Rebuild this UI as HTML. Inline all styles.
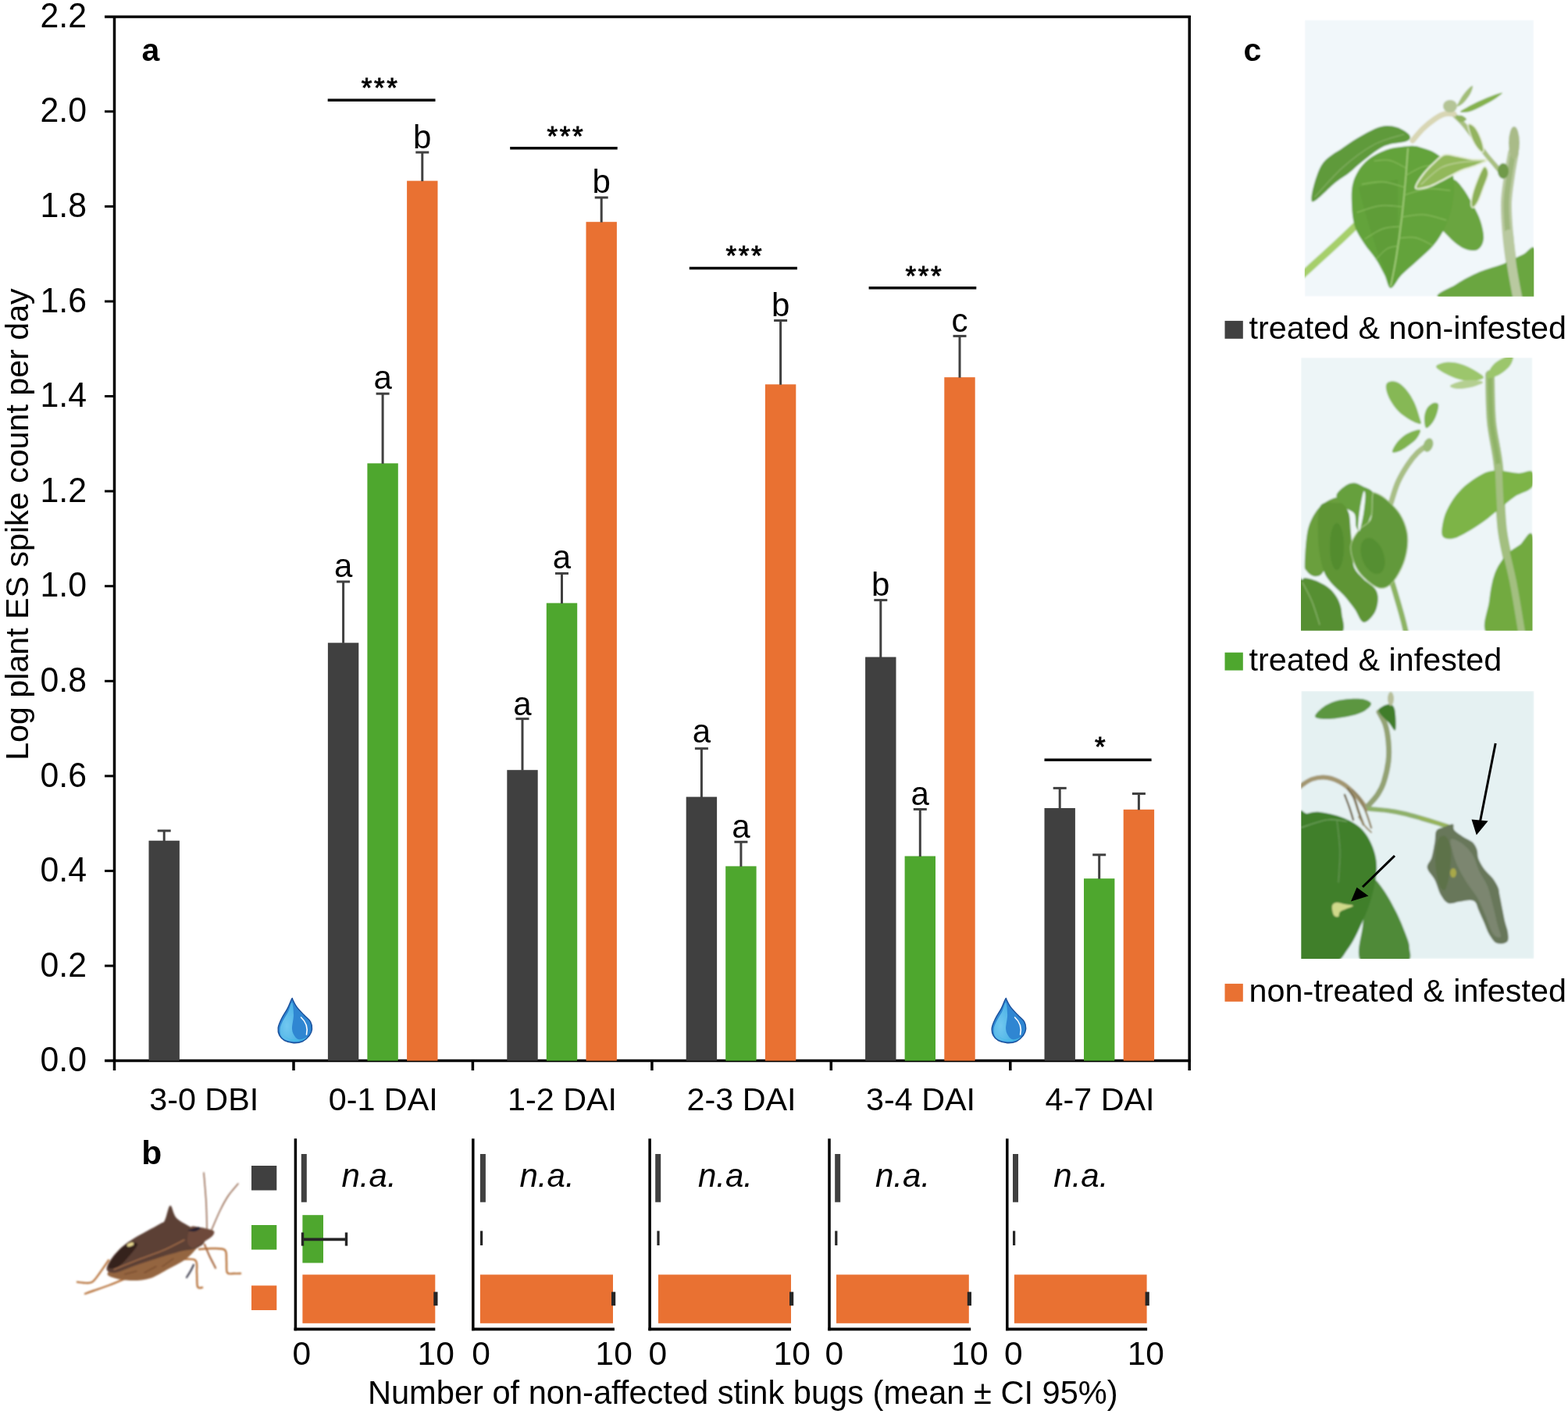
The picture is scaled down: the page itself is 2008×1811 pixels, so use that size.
<!DOCTYPE html>
<html><head><meta charset="utf-8"><title>Figure</title>
<style>html,body{margin:0;padding:0;background:#fff;} svg{display:block;} text{font-family:"Liberation Sans",Arial,sans-serif;fill:#000;}</style>
</head><body>
<svg width="2008" height="1811" viewBox="0 0 2008 1811">
<rect width="2008" height="1811" fill="#fff"/>
<defs>
<clipPath id="p1"><rect x="1670.8" y="25.4" width="293.5" height="354.4"/></clipPath>
<clipPath id="p2"><rect x="1666" y="458" width="296.5" height="349.8"/></clipPath>
<clipPath id="p3"><rect x="1666.3" y="884.9" width="298.2" height="343"/></clipPath>
<filter id="soft" x="-5%" y="-5%" width="110%" height="110%"><feGaussianBlur stdDeviation="0.8"/></filter>
<radialGradient id="dropL" cx="0.35" cy="0.6" r="0.6"><stop offset="0" stop-color="#72c8f0"/><stop offset="1" stop-color="#4db3e6"/></radialGradient>
<linearGradient id="dropR" x1="0" y1="0" x2="1" y2="1"><stop offset="0" stop-color="#2a7fd4"/><stop offset="1" stop-color="#3a92d6"/></linearGradient>
</defs>
<g clip-path="url(#p1)" filter="url(#soft)">
<rect x="1670.8" y="25.4" width="293.5" height="354.4" fill="#f1f7fa"/>
<path d="M1666.0,354.0 C1670.0,350.3 1682.0,339.3 1690.0,332.0 C1698.0,324.7 1706.3,317.2 1714.0,310.0 C1721.7,302.8 1732.3,292.5 1736.0,289.0" fill="none" stroke="#a6cf6a" stroke-width="9" stroke-linecap="round" />
<path d="M1938.0,196.0 C1937.2,200.8 1934.5,214.3 1933.0,225.0 C1931.5,235.7 1929.3,247.5 1929.0,260.0 C1928.7,272.5 1929.8,286.7 1931.0,300.0 C1932.2,313.3 1933.8,325.8 1936.0,340.0 C1938.2,354.2 1942.7,377.5 1944.0,385.0" fill="none" stroke="#b9c9a0" stroke-width="14" stroke-linecap="round" />
<path d="M1938.0,196.0 C1937.2,200.8 1934.5,214.3 1933.0,225.0 C1931.5,235.7 1929.3,247.5 1929.0,260.0 C1928.7,272.5 1929.8,286.7 1931.0,300.0 C1932.2,313.3 1933.8,325.8 1936.0,340.0 C1938.2,354.2 1942.7,377.5 1944.0,385.0" fill="none" stroke="#9fb77e" stroke-width="7" stroke-linecap="round" />
<ellipse cx="1939" cy="183" rx="7" ry="21" fill="#a9bb88"/>
<path d="M1862.0,147.0 C1864.2,149.2 1870.3,154.5 1875.0,160.0 C1879.7,165.5 1885.2,173.5 1890.0,180.0 C1894.8,186.5 1899.8,193.7 1904.0,199.0 C1908.2,204.3 1911.5,207.8 1915.0,212.0 C1918.5,216.2 1923.3,222.0 1925.0,224.0" fill="none" stroke="#a9c080" stroke-width="6" stroke-linecap="round" />
<ellipse cx="1925" cy="219" rx="7" ry="10" fill="#6f9a48"/>
<path d="M1809.0,180.0 C1811.2,177.5 1817.2,169.7 1822.0,165.0 C1826.8,160.3 1833.3,155.2 1838.0,152.0 C1842.7,148.8 1846.0,147.0 1850.0,146.0 C1854.0,145.0 1860.0,146.0 1862.0,146.0" fill="none" stroke="#d8d6b4" stroke-width="7" stroke-linecap="round" />
<path d="M1870.0,143.0 C1870.5,141.5 1880.0,136.7 1885.0,134.0 C1890.0,131.3 1895.0,129.2 1900.0,127.0 C1905.0,124.8 1911.0,122.3 1915.0,121.0 C1919.0,119.7 1924.2,118.0 1924.0,119.0 C1923.8,120.0 1918.3,124.2 1914.0,127.0 C1909.7,129.8 1903.3,133.3 1898.0,136.0 C1892.7,138.7 1886.7,141.8 1882.0,143.0 C1877.3,144.2 1869.5,144.5 1870.0,143.0Z" fill="#85b24e" />
<path d="M1866.0,136.0 C1865.7,134.7 1869.7,127.7 1872.0,124.0 C1874.3,120.3 1877.7,116.3 1880.0,114.0 C1882.3,111.7 1885.5,109.0 1886.0,110.0 C1886.5,111.0 1885.0,116.3 1883.0,120.0 C1881.0,123.7 1876.8,129.3 1874.0,132.0 C1871.2,134.7 1866.3,137.3 1866.0,136.0Z" fill="#a2be78" />
<ellipse cx="1857" cy="136" rx="9" ry="8" fill="#b4c496"/>
<path d="M1864.0,149.0 C1864.3,147.7 1869.7,147.3 1872.0,148.0 C1874.3,148.7 1878.3,151.7 1878.0,153.0 C1877.7,154.3 1872.3,156.7 1870.0,156.0 C1867.7,155.3 1863.7,150.3 1864.0,149.0Z" fill="#8fb25e" />
<path d="M1880.0,160.0 C1880.3,157.0 1885.3,159.3 1888.0,162.0 C1890.7,164.7 1894.0,171.0 1896.0,176.0 C1898.0,181.0 1900.0,189.0 1900.0,192.0 C1900.0,195.0 1898.3,196.0 1896.0,194.0 C1893.7,192.0 1888.7,185.7 1886.0,180.0 C1883.3,174.3 1879.7,163.0 1880.0,160.0Z" fill="#93b45e" stroke="#e8eedb" stroke-width="1.5"/>
<path d="M1845.0,232.0 C1848.7,223.7 1857.2,228.3 1862.0,230.0 C1866.8,231.7 1870.0,236.7 1874.0,242.0 C1878.0,247.3 1882.3,255.2 1886.0,262.0 C1889.7,268.8 1893.7,275.7 1896.0,283.0 C1898.3,290.3 1900.7,299.8 1900.0,306.0 C1899.3,312.2 1896.3,318.0 1892.0,320.0 C1887.7,322.0 1880.3,321.0 1874.0,318.0 C1867.7,315.0 1859.7,308.3 1854.0,302.0 C1848.3,295.7 1841.5,291.7 1840.0,280.0 C1838.5,268.3 1841.3,240.3 1845.0,232.0Z" fill="#6aa540" />
<path d="M1846.0,382.0 C1828.8,378.7 1856.8,369.7 1865.0,364.0 C1873.2,358.3 1885.0,352.3 1895.0,348.0 C1905.0,343.7 1915.8,341.7 1925.0,338.0 C1934.2,334.3 1943.2,329.0 1950.0,326.0 C1956.8,323.0 1963.0,310.3 1966.0,320.0 C1969.0,329.7 1988.0,373.7 1968.0,384.0 C1948.0,394.3 1863.2,385.3 1846.0,382.0Z" fill="#6ba63f" />
<path d="M1932.0,300.0 C1932.7,306.7 1934.0,325.8 1936.0,340.0 C1938.0,354.2 1942.7,377.5 1944.0,385.0" fill="none" stroke="#b9c9a0" stroke-width="12" stroke-linecap="round" />
<path d="M1680.0,258.0 C1677.0,254.3 1685.3,223.5 1692.0,212.0 C1698.7,200.5 1711.2,195.5 1720.0,189.0 C1728.8,182.5 1736.8,177.5 1745.0,173.0 C1753.2,168.5 1761.7,163.7 1769.0,162.0 C1776.3,160.3 1783.0,161.2 1789.0,163.0 C1795.0,164.8 1803.0,170.0 1805.0,173.0 C1807.0,176.0 1806.3,178.7 1801.0,181.0 C1795.7,183.3 1782.0,183.0 1773.0,187.0 C1764.0,191.0 1754.7,199.2 1747.0,205.0 C1739.3,210.8 1733.2,217.2 1727.0,222.0 C1720.8,226.8 1717.8,228.0 1710.0,234.0 C1702.2,240.0 1683.0,261.7 1680.0,258.0Z" fill="#5f9a3a" />
<path d="M1684.0,252.0 C1690.0,245.7 1707.3,225.2 1720.0,214.0 C1732.7,202.8 1747.0,192.0 1760.0,185.0 C1773.0,178.0 1791.7,174.2 1798.0,172.0" fill="none" stroke="#86b266" stroke-width="1.2" stroke-linecap="round" />
<path d="M1805.0,187.0 C1797.5,187.5 1784.5,188.5 1775.0,192.0 C1765.5,195.5 1755.0,201.2 1748.0,208.0 C1741.0,214.8 1735.8,224.0 1733.0,233.0 C1730.2,242.0 1730.7,252.5 1731.0,262.0 C1731.3,271.5 1732.3,281.7 1735.0,290.0 C1737.7,298.3 1742.5,305.0 1747.0,312.0 C1751.5,319.0 1757.7,325.3 1762.0,332.0 C1766.3,338.7 1769.8,345.8 1773.0,352.0 C1776.2,358.2 1777.3,369.0 1781.0,369.0 C1784.7,369.0 1789.3,357.8 1795.0,352.0 C1800.7,346.2 1808.2,340.3 1815.0,334.0 C1821.8,327.7 1830.0,321.3 1836.0,314.0 C1842.0,306.7 1847.0,298.7 1851.0,290.0 C1855.0,281.3 1858.2,271.7 1860.0,262.0 C1861.8,252.3 1862.8,240.5 1862.0,232.0 C1861.2,223.5 1859.0,217.0 1855.0,211.0 C1851.0,205.0 1843.8,199.7 1838.0,196.0 C1832.2,192.3 1825.5,190.5 1820.0,189.0 C1814.5,187.5 1812.5,186.5 1805.0,187.0Z" fill="#63a33b" />
<path d="M1740,240 C1755,300 1770,340 1781,366 L1790,300 L1790,230 Z" fill="#5a9836" opacity="0.5"/>
<path d="M1803.0,190.0 C1802.5,196.7 1801.3,215.0 1800.0,230.0 C1798.7,245.0 1797.0,263.3 1795.0,280.0 C1793.0,296.7 1790.3,315.7 1788.0,330.0 C1785.7,344.3 1782.2,360.0 1781.0,366.0" fill="none" stroke="#acd282" stroke-width="1.6" stroke-linecap="round" />
<path d="M1800.0,215.0 C1796.7,213.4 1786.7,207.0 1780.0,205.5 C1773.3,204.0 1763.3,205.9 1760.0,206.0" fill="none" stroke="#92c466" stroke-width="1.0" stroke-linecap="round" />
<path d="M1799.0,240.0 C1794.4,238.8 1780.7,233.7 1771.5,233.0 C1762.3,232.3 1748.6,235.5 1744.0,236.0" fill="none" stroke="#92c466" stroke-width="1.0" stroke-linecap="round" />
<path d="M1797.0,265.0 C1792.1,264.8 1777.3,262.3 1767.5,263.5 C1757.7,264.7 1742.9,270.6 1738.0,272.0" fill="none" stroke="#92c466" stroke-width="1.0" stroke-linecap="round" />
<path d="M1794.0,290.0 C1790.2,290.5 1778.7,290.3 1771.0,293.0 C1763.3,295.7 1751.8,303.8 1748.0,306.0" fill="none" stroke="#92c466" stroke-width="1.0" stroke-linecap="round" />
<path d="M1791.0,315.0 C1788.6,315.6 1781.3,315.7 1776.5,318.5 C1771.7,321.3 1764.4,329.8 1762.0,332.0" fill="none" stroke="#92c466" stroke-width="1.0" stroke-linecap="round" />
<path d="M1800.0,225.0 C1803.8,223.1 1815.0,215.7 1822.5,213.5 C1830.0,211.3 1841.2,212.2 1845.0,212.0" fill="none" stroke="#92c466" stroke-width="1.0" stroke-linecap="round" />
<path d="M1798.0,250.0 C1802.9,248.7 1817.7,243.0 1827.5,242.0 C1837.3,241.0 1852.1,243.7 1857.0,244.0" fill="none" stroke="#92c466" stroke-width="1.0" stroke-linecap="round" />
<path d="M1795.0,278.0 C1799.8,277.5 1814.0,274.3 1823.5,275.0 C1833.0,275.7 1847.2,280.8 1852.0,282.0" fill="none" stroke="#92c466" stroke-width="1.0" stroke-linecap="round" />
<path d="M1792.0,305.0 C1795.5,304.9 1806.0,303.0 1813.0,304.5 C1820.0,306.0 1830.5,312.4 1834.0,314.0" fill="none" stroke="#92c466" stroke-width="1.0" stroke-linecap="round" />
<path d="M1813.0,241.0 C1811.7,238.5 1817.8,229.7 1822.0,224.0 C1826.2,218.3 1833.3,211.3 1838.0,207.0 C1842.7,202.7 1845.3,199.2 1850.0,198.0 C1854.7,196.8 1860.2,199.0 1866.0,200.0 C1871.8,201.0 1878.7,203.2 1885.0,204.0 C1891.3,204.8 1903.2,203.7 1904.0,205.0 C1904.8,206.3 1895.3,209.8 1890.0,212.0 C1884.7,214.2 1877.0,216.0 1872.0,218.0 C1867.0,220.0 1864.5,221.7 1860.0,224.0 C1855.5,226.3 1850.0,229.5 1845.0,232.0 C1840.0,234.5 1835.3,237.5 1830.0,239.0 C1824.7,240.5 1814.3,243.5 1813.0,241.0Z" fill="#92b85a" stroke="#e6eed6" stroke-width="2.2"/>
<path d="M1820.0,236.0 C1824.2,232.5 1836.7,219.7 1845.0,215.0 C1853.3,210.3 1860.8,209.5 1870.0,208.0 C1879.2,206.5 1895.0,206.3 1900.0,206.0" fill="none" stroke="#bcd196" stroke-width="1.4" stroke-linecap="round" />
<path d="M1900.0,214.0 C1902.8,211.3 1906.0,217.7 1906.0,222.0 C1906.0,226.3 1902.2,234.0 1900.0,240.0 C1897.8,246.0 1895.3,253.7 1893.0,258.0 C1890.7,262.3 1887.5,266.0 1886.0,266.0 C1884.5,266.0 1883.5,262.7 1884.0,258.0 C1884.5,253.3 1886.3,245.3 1889.0,238.0 C1891.7,230.7 1897.2,216.7 1900.0,214.0Z" fill="#8cb056" stroke="#e6eed6" stroke-width="1.6"/>
</g>
<g clip-path="url(#p2)" filter="url(#soft)">
<rect x="1666" y="458" width="296.5" height="349.8" fill="#edf5f7"/>
<path d="M1781.0,645.0 C1782.5,640.5 1786.3,626.3 1790.0,618.0 C1793.7,609.7 1798.8,601.3 1803.0,595.0 C1807.2,588.7 1810.8,584.2 1815.0,580.0 C1819.2,575.8 1825.8,571.7 1828.0,570.0" fill="none" stroke="#a9bf86" stroke-width="7" stroke-linecap="round" />
<path d="M1781.0,740.0 C1782.5,745.0 1787.3,760.8 1790.0,770.0 C1792.7,779.2 1795.2,788.0 1797.0,795.0 C1798.8,802.0 1800.3,809.2 1801.0,812.0" fill="none" stroke="#8db463" stroke-width="7" stroke-linecap="round" />
<path d="M1908.0,480.0 C1908.3,490.0 1908.2,520.3 1910.0,540.0 C1911.8,559.7 1916.7,574.7 1919.0,598.0 C1921.3,621.3 1920.8,655.2 1924.0,680.0 C1927.2,704.8 1933.8,725.0 1938.0,747.0 C1942.2,769.0 1947.2,801.2 1949.0,812.0" fill="none" stroke="#a3bf80" stroke-width="12" stroke-linecap="round" />
<path d="M1908.0,480.0 C1908.3,490.0 1908.2,520.3 1910.0,540.0 C1911.8,559.7 1916.7,574.7 1919.0,598.0 C1921.3,621.3 1920.8,655.2 1924.0,680.0 C1927.2,704.8 1933.8,725.0 1938.0,747.0 C1942.2,769.0 1947.2,801.2 1949.0,812.0" fill="none" stroke="#8fb368" stroke-width="6" stroke-linecap="round" />
<path d="M1777.0,490.0 C1779.2,488.5 1784.2,487.7 1788.0,489.0 C1791.8,490.3 1796.2,493.7 1800.0,498.0 C1803.8,502.3 1808.0,508.8 1811.0,515.0 C1814.0,521.2 1816.7,530.3 1818.0,535.0 C1819.3,539.7 1821.0,542.5 1819.0,543.0 C1817.0,543.5 1810.7,540.7 1806.0,538.0 C1801.3,535.3 1795.3,531.3 1791.0,527.0 C1786.7,522.7 1782.7,516.8 1780.0,512.0 C1777.3,507.2 1775.5,501.7 1775.0,498.0 C1774.5,494.3 1774.8,491.5 1777.0,490.0Z" fill="#86b855" />
<path d="M1826.0,548.0 C1824.3,546.7 1823.7,538.3 1824.0,534.0 C1824.3,529.7 1826.0,525.0 1828.0,522.0 C1830.0,519.0 1833.7,516.7 1836.0,516.0 C1838.3,515.3 1841.3,515.7 1842.0,518.0 C1842.7,520.3 1841.3,526.0 1840.0,530.0 C1838.7,534.0 1836.3,539.0 1834.0,542.0 C1831.7,545.0 1827.7,549.3 1826.0,548.0Z" fill="#80b450" />
<path d="M1783.0,579.0 C1782.3,577.3 1785.5,571.5 1788.0,568.0 C1790.5,564.5 1794.3,560.7 1798.0,558.0 C1801.7,555.3 1806.5,553.2 1810.0,552.0 C1813.5,550.8 1818.3,549.3 1819.0,551.0 C1819.7,552.7 1816.8,558.5 1814.0,562.0 C1811.2,565.5 1805.7,569.3 1802.0,572.0 C1798.3,574.7 1795.2,576.8 1792.0,578.0 C1788.8,579.2 1783.7,580.7 1783.0,579.0Z" fill="#80b450" />
<ellipse cx="1829" cy="570" rx="6" ry="9" fill="#9cbc78" transform="rotate(20 1829 570)"/>
<path d="M1839.0,470.0 C1838.0,467.0 1846.8,464.7 1852.0,464.0 C1857.2,463.3 1864.0,464.3 1870.0,466.0 C1876.0,467.7 1883.0,471.0 1888.0,474.0 C1893.0,477.0 1901.3,481.7 1900.0,484.0 C1898.7,486.3 1887.0,488.3 1880.0,488.0 C1873.0,487.7 1864.8,485.0 1858.0,482.0 C1851.2,479.0 1840.0,473.0 1839.0,470.0Z" fill="#9cc66c" />
<path d="M1905.0,484.0 C1903.3,482.3 1907.2,474.0 1910.0,470.0 C1912.8,466.0 1917.5,462.3 1922.0,460.0 C1926.5,457.7 1935.0,454.7 1937.0,456.0 C1939.0,457.3 1936.8,464.0 1934.0,468.0 C1931.2,472.0 1924.8,477.3 1920.0,480.0 C1915.2,482.7 1906.7,485.7 1905.0,484.0Z" fill="#9cc66c" />
<path d="M1857.0,494.0 C1858.0,492.3 1866.5,489.2 1872.0,488.0 C1877.5,486.8 1885.5,486.7 1890.0,487.0 C1894.5,487.3 1900.0,488.5 1899.0,490.0 C1898.0,491.5 1889.5,494.7 1884.0,496.0 C1878.5,497.3 1870.5,498.3 1866.0,498.0 C1861.5,497.7 1856.0,495.7 1857.0,494.0Z" fill="#b4cf90" />
<path d="M1847.0,686.0 C1845.2,681.7 1847.2,671.0 1849.0,664.0 C1850.8,657.0 1854.2,650.3 1858.0,644.0 C1861.8,637.7 1866.7,631.3 1872.0,626.0 C1877.3,620.7 1884.3,615.7 1890.0,612.0 C1895.7,608.3 1900.7,605.5 1906.0,604.0 C1911.3,602.5 1915.5,602.7 1922.0,603.0 C1928.5,603.3 1938.3,605.8 1945.0,606.0 C1951.7,606.2 1959.2,601.0 1962.0,604.0 C1964.8,607.0 1965.7,618.7 1962.0,624.0 C1958.3,629.3 1947.0,631.3 1940.0,636.0 C1933.0,640.7 1926.7,646.7 1920.0,652.0 C1913.3,657.3 1907.0,663.0 1900.0,668.0 C1893.0,673.0 1884.7,678.3 1878.0,682.0 C1871.3,685.7 1865.2,689.3 1860.0,690.0 C1854.8,690.7 1848.8,690.3 1847.0,686.0Z" fill="#7db446" />
<path d="M1905.0,812.0 C1895.2,805.0 1905.5,782.8 1907.0,770.0 C1908.5,757.2 1910.5,744.7 1914.0,735.0 C1917.5,725.3 1922.7,718.2 1928.0,712.0 C1933.3,705.8 1940.0,701.7 1946.0,698.0 C1952.0,694.3 1960.7,671.0 1964.0,690.0 C1967.3,709.0 1975.8,791.7 1966.0,812.0 C1956.2,832.3 1914.8,819.0 1905.0,812.0Z" fill="#72aa40" />
<path d="M1919.0,598.0 C1919.8,611.7 1920.8,655.2 1924.0,680.0 C1927.2,704.8 1933.8,725.0 1938.0,747.0 C1942.2,769.0 1947.2,801.2 1949.0,812.0" fill="none" stroke="#a3bf80" stroke-width="9" stroke-linecap="round" />
<path d="M1670.8,721.7 C1671.0,713.4 1672.2,691.7 1674.3,681.1 C1676.4,670.5 1679.8,664.2 1683.5,658.0 C1687.2,651.8 1691.3,647.5 1696.3,644.0 C1701.3,640.5 1710.0,636.7 1713.7,637.1 C1717.4,637.5 1718.3,641.0 1718.3,646.4 C1718.3,651.8 1716.2,659.9 1713.7,669.5 C1711.2,679.1 1706.6,693.7 1703.3,704.3 C1700.0,714.9 1697.5,727.7 1694.0,733.3 C1690.5,738.9 1685.9,738.3 1682.4,737.9 C1678.9,737.5 1675.0,733.7 1673.1,731.0 C1671.2,728.3 1670.6,730.0 1670.8,721.7Z" fill="#6a9f3c" />
<path d="M1711.4,634.8 C1711.8,630.3 1719.2,624.7 1723.0,622.0 C1726.8,619.3 1730.7,618.3 1734.5,618.5 C1738.3,618.7 1742.2,621.3 1746.1,623.2 C1750.0,625.1 1755.4,626.2 1757.7,630.1 C1760.0,634.0 1761.9,637.9 1760.0,646.4 C1758.1,654.9 1749.9,676.3 1746.1,681.1 C1742.2,685.9 1738.8,679.1 1736.9,675.3 C1735.0,671.4 1737.2,662.4 1734.5,658.0 C1731.8,653.6 1724.4,652.6 1720.6,648.7 C1716.8,644.8 1711.0,639.2 1711.4,634.8Z" fill="#66a03c" />
<path d="M1690.5,648.7 C1694.4,640.6 1706.4,644.4 1711.4,644.0 C1716.4,643.6 1717.9,644.1 1720.6,646.4 C1723.3,648.7 1726.0,652.2 1727.6,658.0 C1729.1,663.8 1729.1,672.4 1729.9,681.1 C1730.7,689.8 1731.4,702.4 1732.2,710.1 C1733.0,717.8 1732.2,722.3 1734.5,727.5 C1736.8,732.7 1741.6,736.9 1746.1,741.4 C1750.5,745.9 1758.1,749.8 1761.2,754.2 C1764.3,758.7 1764.9,762.9 1764.7,768.1 C1764.5,773.3 1763.1,780.7 1760.0,785.5 C1756.9,790.3 1750.3,798.1 1746.1,797.1 C1741.8,796.1 1738.8,785.5 1734.5,779.7 C1730.2,773.9 1725.8,768.1 1720.6,762.3 C1715.4,756.5 1707.7,750.7 1703.3,744.9 C1698.9,739.1 1696.5,736.2 1694.0,727.5 C1691.5,718.8 1688.8,705.8 1688.2,692.7 C1687.6,679.6 1686.6,656.8 1690.5,648.7Z" fill="#5e9536" />
<ellipse cx="1712" cy="700" rx="9" ry="30" fill="#4f8a2c" opacity="0.8"/>
<path d="M1729.9,698.5 C1730.9,691.4 1736.0,684.4 1740.3,678.8 C1744.5,673.2 1752.5,672.2 1755.4,664.9 C1758.3,657.6 1756.7,640.4 1757.7,634.8 C1758.7,629.2 1758.3,630.5 1761.2,631.3 C1764.1,632.1 1769.9,634.9 1775.1,639.4 C1780.3,643.9 1788.0,651.0 1792.5,658.0 C1797.0,665.0 1800.2,673.4 1801.8,681.1 C1803.3,688.8 1803.0,696.6 1801.8,704.3 C1800.6,712.0 1798.3,720.1 1794.8,727.5 C1791.3,734.9 1785.7,744.1 1780.9,748.4 C1776.1,752.6 1771.6,754.5 1765.8,753.0 C1760.0,751.5 1751.3,744.3 1746.1,739.1 C1740.9,733.9 1737.2,728.5 1734.5,721.7 C1731.8,714.9 1728.9,705.6 1729.9,698.5Z" fill="#62993a" stroke="#a9c98a" stroke-width="1.2"/>
<ellipse cx="1758" cy="712" rx="14" ry="24" fill="#4e8a2c" opacity="0.7" transform="rotate(-20 1758 712)"/>
<path d="M1739.2,675.3 C1739.2,670.9 1740.3,659.7 1741.5,652.2 C1742.7,644.7 1744.9,633.0 1746.1,630.1 C1747.3,627.2 1748.5,630.1 1748.5,634.8 C1748.5,639.4 1747.3,650.7 1746.1,658.0 C1744.9,665.3 1742.7,675.9 1741.5,678.8 C1740.3,681.7 1739.2,679.7 1739.2,675.3Z" fill="#edf5f7" />
<path d="M1667.3,742.6 C1669.0,742.3 1668.5,739.9 1672.0,740.3 C1675.5,740.7 1683.0,742.6 1688.2,744.9 C1693.4,747.2 1699.0,750.3 1703.3,754.2 C1707.5,758.1 1711.2,762.9 1713.7,768.1 C1716.2,773.3 1717.9,778.2 1718.3,785.5 C1718.7,792.8 1725.4,807.6 1716.0,812.0 C1706.6,816.4 1671.0,823.7 1662.0,812.0 C1653.0,800.3 1661.1,753.6 1662.0,742.0 C1662.9,730.4 1665.6,742.9 1667.3,742.6Z" fill="#578f33" />
<path d="M1668.0,746.0 C1670.0,750.0 1676.3,761.0 1680.0,770.0 C1683.7,779.0 1688.3,795.0 1690.0,800.0" fill="none" stroke="#8fb870" stroke-width="1.2" stroke-linecap="round" />
</g>
<g clip-path="url(#p3)" filter="url(#soft)">
<rect x="1666.3" y="884.9" width="298.2" height="343" fill="#e5f1f2"/>
<path d="M1664.0,1008.0 C1666.7,1006.3 1674.0,1000.0 1680.0,998.0 C1686.0,996.0 1693.3,995.0 1700.0,996.0 C1706.7,997.0 1713.7,1000.0 1720.0,1004.0 C1726.3,1008.0 1733.0,1014.7 1738.0,1020.0 C1743.0,1025.3 1748.0,1033.3 1750.0,1036.0" fill="none" stroke="#a39670" stroke-width="6" stroke-linecap="round" />
<path d="M1752.0,1032.0 C1754.0,1029.7 1760.7,1023.0 1764.0,1018.0 C1767.3,1013.0 1769.7,1009.2 1772.0,1002.0 C1774.3,994.8 1777.0,983.7 1778.0,975.0 C1779.0,966.3 1778.7,957.8 1778.0,950.0 C1777.3,942.2 1776.0,934.3 1774.0,928.0 C1772.0,921.7 1767.3,914.7 1766.0,912.0" fill="none" stroke="#93a273" stroke-width="7" stroke-linecap="round" />
<path d="M1754.0,1036.0 C1757.7,1036.3 1768.7,1037.0 1776.0,1038.0 C1783.3,1039.0 1790.7,1040.3 1798.0,1042.0 C1805.3,1043.7 1813.0,1046.0 1820.0,1048.0 C1827.0,1050.0 1833.7,1052.0 1840.0,1054.0 C1846.3,1056.0 1855.0,1059.0 1858.0,1060.0" fill="none" stroke="#8fb16a" stroke-width="6" stroke-linecap="round" />
<path d="M1726.0,1010.0 C1727.3,1012.0 1731.7,1017.0 1734.0,1022.0 C1736.3,1027.0 1738.0,1034.3 1740.0,1040.0 C1742.0,1045.7 1745.0,1053.3 1746.0,1056.0" fill="none" stroke="#7d7050" stroke-width="3" stroke-linecap="round" />
<path d="M1732.0,1012.0 C1733.7,1014.0 1739.0,1019.0 1742.0,1024.0 C1745.0,1029.0 1747.7,1036.0 1750.0,1042.0 C1752.3,1048.0 1755.0,1057.0 1756.0,1060.0" fill="none" stroke="#8f8260" stroke-width="2.5" stroke-linecap="round" />
<path d="M1722.0,1018.0 C1723.0,1020.7 1726.2,1028.7 1728.0,1034.0 C1729.8,1039.3 1732.2,1047.3 1733.0,1050.0" fill="none" stroke="#6f6448" stroke-width="2.5" stroke-linecap="round" />
<path d="M1740.0,1046.0 C1741.3,1048.0 1745.3,1054.7 1748.0,1058.0 C1750.7,1061.3 1754.7,1064.7 1756.0,1066.0" fill="none" stroke="#9a8c6a" stroke-width="2" stroke-linecap="round" />
<path d="M1684.0,918.0 C1683.0,915.5 1689.7,909.3 1694.0,906.0 C1698.3,902.7 1704.0,899.8 1710.0,898.0 C1716.0,896.2 1723.7,895.3 1730.0,895.0 C1736.3,894.7 1743.7,894.8 1748.0,896.0 C1752.3,897.2 1756.5,899.3 1756.0,902.0 C1755.5,904.7 1750.2,909.3 1745.0,912.0 C1739.8,914.7 1732.5,916.5 1725.0,918.0 C1717.5,919.5 1706.8,921.0 1700.0,921.0 C1693.2,921.0 1685.0,920.5 1684.0,918.0Z" fill="#5b9640" />
<path d="M1766.0,908.0 C1767.7,905.8 1774.7,902.0 1778.0,902.0 C1781.3,902.0 1784.5,902.5 1786.0,908.0 C1787.5,913.5 1788.3,932.2 1787.0,935.0 C1785.7,937.8 1781.2,928.3 1778.0,925.0 C1774.8,921.7 1770.0,917.8 1768.0,915.0 C1766.0,912.2 1764.3,910.2 1766.0,908.0Z" fill="#3f7d2a" />
<ellipse cx="1781" cy="895" rx="4" ry="9" fill="#b7bf9a"/>
<path d="M1745.0,1186.0 C1746.3,1172.3 1749.8,1160.0 1752.0,1150.0 C1754.2,1140.0 1754.7,1127.7 1758.0,1126.0 C1761.3,1124.3 1767.0,1133.0 1772.0,1140.0 C1777.0,1147.0 1783.3,1158.7 1788.0,1168.0 C1792.7,1177.3 1797.2,1188.3 1800.0,1196.0 C1802.8,1203.7 1805.0,1208.0 1805.0,1214.0 C1805.0,1220.0 1810.2,1229.0 1800.0,1232.0 C1789.8,1235.0 1753.2,1239.7 1744.0,1232.0 C1734.8,1224.3 1743.7,1199.7 1745.0,1186.0Z" fill="#4f8a38" />
<path d="M1662.0,1046.0 C1664.3,1029.7 1669.3,1043.0 1674.0,1042.0 C1678.7,1041.0 1682.5,1039.2 1690.0,1040.0 C1697.5,1040.8 1710.2,1043.5 1719.0,1047.0 C1727.8,1050.5 1736.5,1054.7 1743.0,1061.0 C1749.5,1067.3 1754.7,1076.2 1758.0,1085.0 C1761.3,1093.8 1763.5,1102.5 1763.0,1114.0 C1762.5,1125.5 1759.0,1140.8 1755.0,1154.0 C1751.0,1167.2 1744.0,1182.5 1739.0,1193.0 C1734.0,1203.5 1730.0,1210.5 1725.0,1217.0 C1720.0,1223.5 1719.5,1229.2 1709.0,1232.0 C1698.5,1234.8 1670.2,1249.3 1662.0,1234.0 C1653.8,1218.7 1660.0,1171.3 1660.0,1140.0 C1660.0,1108.7 1659.7,1062.3 1662.0,1046.0Z" fill="#3f7f2c" />
<path d="M1666.0,1060.0 C1671.7,1058.3 1690.2,1051.3 1700.0,1050.0 C1709.8,1048.7 1720.8,1051.7 1725.0,1052.0" fill="none" stroke="#7aa866" stroke-width="1.2" stroke-linecap="round" />
<path d="M1712.0,1050.0 C1712.7,1056.7 1715.7,1076.7 1716.0,1090.0 C1716.3,1103.3 1714.3,1123.3 1714.0,1130.0" fill="none" stroke="#6a9a56" stroke-width="1.2" stroke-linecap="round" />
<path d="M1706.0,1160.0 C1706.7,1157.3 1709.3,1156.3 1712.0,1156.0 C1714.7,1155.7 1718.5,1157.3 1722.0,1158.0 C1725.5,1158.7 1732.7,1159.0 1733.0,1160.0 C1733.3,1161.0 1726.8,1162.7 1724.0,1164.0 C1721.2,1165.3 1717.7,1166.3 1716.0,1168.0 C1714.3,1169.7 1715.3,1173.3 1714.0,1174.0 C1712.7,1174.7 1709.3,1174.3 1708.0,1172.0 C1706.7,1169.7 1705.3,1162.7 1706.0,1160.0Z" fill="#cfd98a" />
<path d="M1818.0,1047.0 C1820.8,1047.8 1828.3,1050.0 1835.0,1052.0 C1841.7,1054.0 1854.2,1057.8 1858.0,1059.0" fill="none" stroke="#98b45a" stroke-width="4" stroke-linecap="round" />
<path d="M1839.3,1064.2 C1841.2,1061.0 1845.5,1060.8 1849.0,1059.3 C1852.5,1057.8 1858.3,1054.8 1860.6,1055.5 C1862.8,1056.2 1860.2,1060.5 1862.5,1063.2 C1864.8,1065.9 1870.2,1069.3 1874.1,1071.9 C1878.0,1074.5 1882.8,1075.9 1885.7,1078.6 C1888.6,1081.3 1890.2,1084.8 1891.5,1088.3 C1892.8,1091.8 1891.8,1095.7 1893.4,1099.9 C1895.0,1104.1 1898.0,1109.2 1901.1,1113.4 C1904.2,1117.6 1908.9,1121.1 1911.8,1125.0 C1914.7,1128.9 1917.0,1133.0 1918.5,1136.6 C1920.0,1140.1 1919.5,1141.5 1920.5,1146.3 C1921.5,1151.1 1923.2,1160.0 1924.3,1165.6 C1925.4,1171.2 1926.1,1175.3 1927.2,1180.1 C1928.3,1184.9 1930.6,1190.2 1931.1,1194.6 C1931.6,1198.9 1932.5,1204.0 1930.1,1206.2 C1927.7,1208.5 1920.5,1209.7 1916.6,1208.1 C1912.7,1206.5 1909.5,1200.7 1906.9,1196.5 C1904.3,1192.3 1903.3,1188.2 1901.1,1183.0 C1898.8,1177.8 1895.3,1170.1 1893.4,1165.6 C1891.5,1161.1 1891.4,1158.0 1889.6,1155.9 C1887.8,1153.8 1886.3,1153.2 1882.8,1153.0 C1879.2,1152.8 1873.0,1154.3 1868.3,1155.0 C1863.6,1155.7 1858.7,1158.4 1854.8,1156.9 C1850.9,1155.5 1848.0,1151.3 1845.1,1146.3 C1842.2,1141.3 1840.3,1132.7 1837.4,1126.9 C1834.5,1121.1 1828.4,1116.3 1827.7,1111.5 C1827.0,1106.7 1831.9,1103.5 1833.5,1098.0 C1835.1,1092.5 1836.4,1084.2 1837.4,1078.6 C1838.4,1073.0 1837.4,1067.4 1839.3,1064.2Z" fill="#68775a" />
<path d="M1858.0,1075.0 C1860.0,1073.3 1867.3,1076.7 1872.0,1080.0 C1876.7,1083.3 1882.3,1089.2 1886.0,1095.0 C1889.7,1100.8 1890.8,1108.3 1894.0,1115.0 C1897.2,1121.7 1902.0,1127.5 1905.0,1135.0 C1908.0,1142.5 1909.8,1151.7 1912.0,1160.0 C1914.2,1168.3 1916.3,1178.3 1918.0,1185.0 C1919.7,1191.7 1923.0,1198.2 1922.0,1200.0 C1921.0,1201.8 1915.3,1200.7 1912.0,1196.0 C1908.7,1191.3 1905.3,1179.7 1902.0,1172.0 C1898.7,1164.3 1896.0,1157.0 1892.0,1150.0 C1888.0,1143.0 1882.3,1137.0 1878.0,1130.0 C1873.7,1123.0 1869.0,1114.7 1866.0,1108.0 C1863.0,1101.3 1861.3,1095.5 1860.0,1090.0 C1858.7,1084.5 1856.0,1076.7 1858.0,1075.0Z" fill="#7b8670" />
<path d="M1842.0,1075.0 C1844.3,1070.3 1849.3,1069.5 1852.0,1072.0 C1854.7,1074.5 1857.3,1082.0 1858.0,1090.0 C1858.7,1098.0 1857.3,1111.7 1856.0,1120.0 C1854.7,1128.3 1852.3,1138.3 1850.0,1140.0 C1847.7,1141.7 1844.0,1136.7 1842.0,1130.0 C1840.0,1123.3 1838.0,1109.2 1838.0,1100.0 C1838.0,1090.8 1839.7,1079.7 1842.0,1075.0Z" fill="#5d7248" />
<ellipse cx="1861" cy="1118" rx="4" ry="6" fill="#a8a848"/>
</g>
<line x1="1915.2" y1="952" x2="1895.5" y2="1052" stroke="#000" stroke-width="3"/>
<polygon points="1884.5,1049.5 1905.6,1051.5 1890.8,1069.5" fill="#000"/>
<line x1="1786" y1="1096" x2="1745" y2="1136" stroke="#000" stroke-width="3"/>
<polygon points="1730,1154.5 1737.5,1136.5 1752.5,1147.5" fill="#000"/>
<path d="M373.6,1279.3 C372.5,1281.1 370.4,1287.3 368.2,1291.6 C366.0,1295.8 362.5,1300.7 360.5,1304.8 C358.5,1308.9 356.6,1312.9 356.2,1316.4 C355.8,1319.9 356.4,1323.3 357.8,1326.0 C359.2,1328.7 361.3,1331.0 364.3,1332.6 C367.3,1334.2 372.0,1335.5 375.9,1335.7 C379.8,1335.9 384.1,1335.4 387.5,1333.8 C390.9,1332.2 394.4,1328.6 396.4,1326.0 C398.4,1323.4 399.3,1321.2 399.5,1318.3 C399.7,1315.4 399.3,1311.6 397.6,1308.6 C395.9,1305.6 392.4,1303.3 389.4,1300.1 C386.4,1296.9 382.2,1292.5 379.8,1289.3 C377.4,1286.1 376.1,1282.5 375.1,1280.8 C374.1,1279.1 374.8,1277.5 373.6,1279.3Z" fill="#2f86d2" stroke="#1a4f9a" stroke-width="1.4"/>
<path d="M374.0,1284.0 C372.8,1283.3 371.0,1292.0 369.0,1296.0 C367.0,1300.0 363.8,1304.3 362.0,1308.0 C360.2,1311.7 358.8,1314.8 358.5,1318.0 C358.2,1321.2 358.8,1324.7 360.0,1327.0 C361.2,1329.3 363.3,1330.8 366.0,1332.0 C368.7,1333.2 373.0,1333.8 376.0,1334.0 C379.0,1334.2 383.7,1334.0 384.0,1333.0 C384.3,1332.0 379.7,1330.5 378.0,1328.0 C376.3,1325.5 374.3,1322.7 374.0,1318.0 C373.7,1313.3 376.0,1305.7 376.0,1300.0 C376.0,1294.3 375.2,1284.7 374.0,1284.0Z" fill="url(#dropL)"/>
<path d="M385.5,1303 Q395.5,1312 392.5,1325" fill="none" stroke="#fff" stroke-width="1.6" stroke-linecap="round"/>
<path d="M363.0,1326.0 C363.0,1326.2 368.2,1330.8 372.0,1332.0 C375.8,1333.2 382.3,1333.7 386.0,1333.0 C389.7,1332.3 394.0,1328.3 394.0,1328.0 C394.0,1327.7 389.7,1330.5 386.0,1331.0 C382.3,1331.5 375.8,1331.8 372.0,1331.0 C368.2,1330.2 363.0,1325.8 363.0,1326.0Z" fill="#45bce6" opacity="0.8"/>
<path d="M1287.7,1279.3 C1286.5,1281.1 1284.5,1287.3 1282.3,1291.6 C1280.1,1295.8 1276.6,1300.7 1274.6,1304.8 C1272.6,1308.9 1270.8,1312.9 1270.3,1316.4 C1269.8,1319.9 1270.6,1323.3 1271.9,1326.0 C1273.2,1328.7 1275.4,1331.0 1278.4,1332.6 C1281.4,1334.2 1286.1,1335.5 1290.0,1335.7 C1293.9,1335.9 1298.2,1335.4 1301.6,1333.8 C1305.0,1332.2 1308.5,1328.6 1310.5,1326.0 C1312.5,1323.4 1313.4,1321.2 1313.6,1318.3 C1313.8,1315.4 1313.4,1311.6 1311.7,1308.6 C1310.0,1305.6 1306.5,1303.3 1303.5,1300.1 C1300.5,1296.9 1296.3,1292.5 1293.9,1289.3 C1291.5,1286.1 1290.2,1282.5 1289.2,1280.8 C1288.2,1279.1 1288.9,1277.5 1287.7,1279.3Z" fill="#2f86d2" stroke="#1a4f9a" stroke-width="1.4"/>
<path d="M1288.1,1284.0 C1286.9,1283.3 1285.1,1292.0 1283.1,1296.0 C1281.1,1300.0 1277.8,1304.3 1276.1,1308.0 C1274.3,1311.7 1272.9,1314.8 1272.6,1318.0 C1272.3,1321.2 1272.8,1324.7 1274.1,1327.0 C1275.3,1329.3 1277.4,1330.8 1280.1,1332.0 C1282.8,1333.2 1287.1,1333.8 1290.1,1334.0 C1293.1,1334.2 1297.8,1334.0 1298.1,1333.0 C1298.4,1332.0 1293.8,1330.5 1292.1,1328.0 C1290.4,1325.5 1288.4,1322.7 1288.1,1318.0 C1287.8,1313.3 1290.1,1305.7 1290.1,1300.0 C1290.1,1294.3 1289.3,1284.7 1288.1,1284.0Z" fill="url(#dropL)"/>
<path d="M1299.6,1303 Q1309.6,1312 1306.6,1325" fill="none" stroke="#fff" stroke-width="1.6" stroke-linecap="round"/>
<path d="M1277.1,1326.0 C1277.1,1326.2 1282.3,1330.8 1286.1,1332.0 C1289.9,1333.2 1296.4,1333.7 1300.1,1333.0 C1303.8,1332.3 1308.1,1328.3 1308.1,1328.0 C1308.1,1327.7 1303.8,1330.5 1300.1,1331.0 C1296.4,1331.5 1289.9,1331.8 1286.1,1331.0 C1282.3,1330.2 1277.1,1325.8 1277.1,1326.0Z" fill="#45bce6" opacity="0.8"/>
<g filter="url(#soft)">
<path d="M139.0,1614.0 C137.2,1616.7 131.5,1625.3 128.0,1630.0 C124.5,1634.7 121.5,1639.8 118.0,1642.0 C114.5,1644.2 110.2,1643.0 107.0,1643.0 C103.8,1643.0 100.3,1642.2 99.0,1642.0" fill="none" stroke="#b8743e" stroke-width="2.4" stroke-linecap="round" />
<path d="M162.0,1637.0 C158.3,1638.5 147.0,1643.3 140.0,1646.0 C133.0,1648.7 125.2,1651.2 120.0,1653.0 C114.8,1654.8 110.8,1656.3 109.0,1657.0" fill="none" stroke="#b8743e" stroke-width="2.4" stroke-linecap="round" />
<path d="M255.0,1600.0 C257.8,1599.8 266.5,1598.8 272.0,1599.0 C277.5,1599.2 285.0,1598.3 288.0,1601.0 C291.0,1603.7 289.5,1610.2 290.0,1615.0 C290.5,1619.8 289.3,1627.3 291.0,1630.0 C292.7,1632.7 297.2,1630.8 300.0,1631.0 C302.8,1631.2 306.7,1631.0 308.0,1631.0" fill="none" stroke="#b8743e" stroke-width="2.4" stroke-linecap="round" />
<path d="M262.0,1594.0 C263.0,1596.3 265.7,1603.0 268.0,1608.0 C270.3,1613.0 274.7,1621.3 276.0,1624.0" fill="none" stroke="#a4643a" stroke-width="2.2" stroke-linecap="round" />
<path d="M230.0,1613.0 C233.3,1613.2 246.3,1611.2 250.0,1614.0 C253.7,1616.8 251.5,1624.3 252.0,1630.0 C252.5,1635.7 251.8,1644.8 253.0,1648.0 C254.2,1651.2 258.0,1648.8 259.0,1649.0" fill="none" stroke="#b8743e" stroke-width="2.4" stroke-linecap="round" />
<path d="M248.0,1620.0 C247.3,1621.3 245.5,1625.3 244.0,1628.0 C242.5,1630.7 239.8,1634.7 239.0,1636.0" fill="none" stroke="#3a3a4a" stroke-width="2.2" stroke-linecap="round" />
<path d="M265.0,1574.0 C264.8,1568.3 264.7,1552.0 264.0,1540.0 C263.3,1528.0 261.5,1508.3 261.0,1502.0" fill="none" stroke="#8e5e44" stroke-width="1.5" stroke-linecap="round" />
<path d="M271.0,1575.0 C272.8,1570.8 278.5,1557.2 282.0,1550.0 C285.5,1542.8 288.2,1537.7 292.0,1532.0 C295.8,1526.3 302.8,1518.7 305.0,1516.0" fill="none" stroke="#8e5e44" stroke-width="1.5" stroke-linecap="round" />
<path d="M138.0,1630.0 C135.8,1633.7 141.7,1635.3 147.0,1637.0 C152.3,1638.7 162.3,1640.0 170.0,1640.0 C177.7,1640.0 185.3,1639.5 193.0,1637.0 C200.7,1634.5 208.8,1628.8 216.0,1625.0 C223.2,1621.2 230.5,1617.8 236.0,1614.0 C241.5,1610.2 245.7,1605.7 249.0,1602.0 C252.3,1598.3 258.8,1593.7 256.0,1592.0 C253.2,1590.3 241.3,1590.7 232.0,1592.0 C222.7,1593.3 212.0,1596.2 200.0,1600.0 C188.0,1603.8 170.3,1610.0 160.0,1615.0 C149.7,1620.0 140.2,1626.3 138.0,1630.0Z" fill="#94653f" />
<path d="M160.0,1632.0 L175.0,1628.0" fill="none" stroke="#7a4e30" stroke-width="1.5" stroke-linecap="round" />
<path d="M185.0,1630.0 L200.0,1622.0" fill="none" stroke="#7a4e30" stroke-width="1.5" stroke-linecap="round" />
<path d="M208.0,1622.0 L222.0,1612.0" fill="none" stroke="#7a4e30" stroke-width="1.5" stroke-linecap="round" />
<path d="M137.0,1627.0 C135.7,1624.7 137.3,1620.5 140.0,1616.0 C142.7,1611.5 148.0,1604.8 153.0,1600.0 C158.0,1595.2 161.5,1592.3 170.0,1587.0 C178.5,1581.7 197.2,1572.0 204.0,1568.0 C210.8,1564.0 208.7,1567.0 211.0,1563.0 C213.3,1559.0 215.5,1544.5 218.0,1544.0 C220.5,1543.5 221.5,1555.3 226.0,1560.0 C230.5,1564.7 240.7,1569.5 245.0,1572.0 C249.3,1574.5 249.2,1572.0 252.0,1575.0 C254.8,1578.0 262.3,1586.0 262.0,1590.0 C261.7,1594.0 255.3,1596.8 250.0,1599.0 C244.7,1601.2 238.3,1600.8 230.0,1603.0 C221.7,1605.2 210.0,1608.8 200.0,1612.0 C190.0,1615.2 178.7,1619.0 170.0,1622.0 C161.3,1625.0 153.5,1629.2 148.0,1630.0 C142.5,1630.8 138.3,1629.3 137.0,1627.0Z" fill="#5c3f35" />
<path d="M244.0,1572.0 C246.7,1569.0 252.3,1571.7 256.0,1572.0 C259.7,1572.3 263.0,1573.2 266.0,1574.0 C269.0,1574.8 273.0,1575.5 274.0,1577.0 C275.0,1578.5 274.0,1580.8 272.0,1583.0 C270.0,1585.2 264.7,1588.2 262.0,1590.0 C259.3,1591.8 258.7,1592.7 256.0,1594.0 C253.3,1595.3 248.7,1598.7 246.0,1598.0 C243.3,1597.3 240.3,1594.3 240.0,1590.0 C239.7,1585.7 241.3,1575.0 244.0,1572.0Z" fill="#6e4a3a" />
<path d="M241.0,1576.0 C241.3,1575.2 249.3,1572.5 252.0,1572.0 C254.7,1571.5 257.3,1572.2 257.0,1573.0 C256.7,1573.8 252.7,1576.5 250.0,1577.0 C247.3,1577.5 240.7,1576.8 241.0,1576.0Z" fill="#262232" />
<path d="M139.0,1624.0 C137.7,1622.3 141.2,1616.3 144.0,1612.0 C146.8,1607.7 152.0,1601.3 156.0,1598.0 C160.0,1594.7 164.7,1592.7 168.0,1592.0 C171.3,1591.3 176.3,1591.3 176.0,1594.0 C175.7,1596.7 170.0,1603.3 166.0,1608.0 C162.0,1612.7 156.5,1619.3 152.0,1622.0 C147.5,1624.7 140.3,1625.7 139.0,1624.0Z" fill="#34231f" />
<ellipse cx="167" cy="1594" rx="4.5" ry="2.2" fill="#e8d890" transform="rotate(-20 167 1594)"/>
<path d="M146.0,1626.0 C151.3,1623.8 167.3,1617.2 178.0,1613.0 C188.7,1608.8 200.3,1605.2 210.0,1601.0 C219.7,1596.8 231.7,1590.2 236.0,1588.0" fill="none" stroke="#a06c48" stroke-width="1.5" stroke-linecap="round" />
</g>
<line x1="134.0" y1="21.6" x2="1524.9" y2="21.6" stroke="#000" stroke-width="3.5"/>
<line x1="146.5" y1="19.9" x2="146.5" y2="1371.0" stroke="#000" stroke-width="3.5"/>
<line x1="1523.2" y1="19.9" x2="1523.2" y2="1371.0" stroke="#000" stroke-width="3.5"/>
<line x1="134.0" y1="1358.6" x2="1524.9" y2="1358.6" stroke="#000" stroke-width="3.5"/>
<line x1="134.0" y1="1237.0" x2="146.5" y2="1237.0" stroke="#000" stroke-width="3"/>
<line x1="134.0" y1="1115.4" x2="146.5" y2="1115.4" stroke="#000" stroke-width="3"/>
<line x1="134.0" y1="993.9" x2="146.5" y2="993.9" stroke="#000" stroke-width="3"/>
<line x1="134.0" y1="872.3" x2="146.5" y2="872.3" stroke="#000" stroke-width="3"/>
<line x1="134.0" y1="750.7" x2="146.5" y2="750.7" stroke="#000" stroke-width="3"/>
<line x1="134.0" y1="629.1" x2="146.5" y2="629.1" stroke="#000" stroke-width="3"/>
<line x1="134.0" y1="507.5" x2="146.5" y2="507.5" stroke="#000" stroke-width="3"/>
<line x1="134.0" y1="386.0" x2="146.5" y2="386.0" stroke="#000" stroke-width="3"/>
<line x1="134.0" y1="264.4" x2="146.5" y2="264.4" stroke="#000" stroke-width="3"/>
<line x1="134.0" y1="142.8" x2="146.5" y2="142.8" stroke="#000" stroke-width="3"/>
<line x1="376.0" y1="1358.6" x2="376.0" y2="1371.0" stroke="#000" stroke-width="3.5"/>
<line x1="605.4" y1="1358.6" x2="605.4" y2="1371.0" stroke="#000" stroke-width="3.5"/>
<line x1="834.9" y1="1358.6" x2="834.9" y2="1371.0" stroke="#000" stroke-width="3.5"/>
<line x1="1064.3" y1="1358.6" x2="1064.3" y2="1371.0" stroke="#000" stroke-width="3.5"/>
<line x1="1293.8" y1="1358.6" x2="1293.8" y2="1371.0" stroke="#000" stroke-width="3.5"/>
<text transform="translate(111.0,1372.2) scale(1,1.045)" font-size="42.8" text-anchor="end">0.0</text>
<text transform="translate(111.0,1250.6) scale(1,1.045)" font-size="42.8" text-anchor="end">0.2</text>
<text transform="translate(111.0,1129.0) scale(1,1.045)" font-size="42.8" text-anchor="end">0.4</text>
<text transform="translate(111.0,1007.5) scale(1,1.045)" font-size="42.8" text-anchor="end">0.6</text>
<text transform="translate(111.0,885.9) scale(1,1.045)" font-size="42.8" text-anchor="end">0.8</text>
<text transform="translate(111.0,764.3) scale(1,1.045)" font-size="42.8" text-anchor="end">1.0</text>
<text transform="translate(111.0,642.7) scale(1,1.045)" font-size="42.8" text-anchor="end">1.2</text>
<text transform="translate(111.0,521.1) scale(1,1.045)" font-size="42.8" text-anchor="end">1.4</text>
<text transform="translate(111.0,399.6) scale(1,1.045)" font-size="42.8" text-anchor="end">1.6</text>
<text transform="translate(111.0,278.0) scale(1,1.045)" font-size="42.8" text-anchor="end">1.8</text>
<text transform="translate(111.0,156.4) scale(1,1.045)" font-size="42.8" text-anchor="end">2.0</text>
<text transform="translate(111.0,34.8) scale(1,1.045)" font-size="42.8" text-anchor="end">2.2</text>
<text transform="translate(35.5,671.6) rotate(-90)" font-size="41.2" text-anchor="middle">Log plant ES spike count per day</text>
<text x="261.2" y="1422.0" font-size="41.3" text-anchor="middle" font-weight="normal" font-style="normal" >3-0 DBI</text>
<text x="490.7" y="1422.0" font-size="41.3" text-anchor="middle" font-weight="normal" font-style="normal" >0-1 DAI</text>
<text x="720.1" y="1422.0" font-size="41.3" text-anchor="middle" font-weight="normal" font-style="normal" >1-2 DAI</text>
<text x="949.6" y="1422.0" font-size="41.3" text-anchor="middle" font-weight="normal" font-style="normal" >2-3 DAI</text>
<text x="1179.0" y="1422.0" font-size="41.3" text-anchor="middle" font-weight="normal" font-style="normal" >3-4 DAI</text>
<text x="1408.5" y="1422.0" font-size="41.3" text-anchor="middle" font-weight="normal" font-style="normal" >4-7 DAI</text>
<text x="181.5" y="78.0" font-size="41" text-anchor="start" font-weight="bold" font-style="normal" >a</text>
<rect x="190.5" y="1076.7" width="39.4" height="281.9" fill="#404040"/>
<line x1="210.2" y1="1077.2" x2="210.2" y2="1064.0" stroke="#404040" stroke-width="3"/>
<line x1="201.7" y1="1064.0" x2="218.7" y2="1064.0" stroke="#404040" stroke-width="3"/>
<rect x="419.9" y="823.3" width="39.4" height="535.3" fill="#404040"/>
<line x1="439.6" y1="823.8" x2="439.6" y2="745.0" stroke="#404040" stroke-width="3"/>
<line x1="431.1" y1="745.0" x2="448.1" y2="745.0" stroke="#404040" stroke-width="3"/>
<text x="439.6" y="739.3" font-size="42" text-anchor="middle" font-weight="normal" font-style="normal" >a</text>
<rect x="470.4" y="593.4" width="39.4" height="765.2" fill="#4ea72e"/>
<line x1="490.1" y1="593.9" x2="490.1" y2="504.2" stroke="#404040" stroke-width="3"/>
<line x1="481.6" y1="504.2" x2="498.6" y2="504.2" stroke="#404040" stroke-width="3"/>
<text x="490.1" y="497.9" font-size="42" text-anchor="middle" font-weight="normal" font-style="normal" >a</text>
<rect x="521.1" y="231.6" width="39.4" height="1127.0" fill="#e97132"/>
<line x1="540.8" y1="232.1" x2="540.8" y2="195.1" stroke="#404040" stroke-width="3"/>
<line x1="532.3" y1="195.1" x2="549.3" y2="195.1" stroke="#404040" stroke-width="3"/>
<text x="540.8" y="189.8" font-size="42" text-anchor="middle" font-weight="normal" font-style="normal" >b</text>
<rect x="649.3" y="986.2" width="39.4" height="372.4" fill="#404040"/>
<line x1="669.0" y1="986.7" x2="669.0" y2="920.6" stroke="#404040" stroke-width="3"/>
<line x1="660.5" y1="920.6" x2="677.5" y2="920.6" stroke="#404040" stroke-width="3"/>
<text x="669.0" y="915.5" font-size="42" text-anchor="middle" font-weight="normal" font-style="normal" >a</text>
<rect x="699.8" y="772.4" width="39.4" height="586.2" fill="#4ea72e"/>
<line x1="719.5" y1="772.9" x2="719.5" y2="734.4" stroke="#404040" stroke-width="3"/>
<line x1="711.0" y1="734.4" x2="728.0" y2="734.4" stroke="#404040" stroke-width="3"/>
<text x="719.5" y="728.2" font-size="42" text-anchor="middle" font-weight="normal" font-style="normal" >a</text>
<rect x="750.5" y="284.2" width="39.4" height="1074.4" fill="#e97132"/>
<line x1="770.2" y1="284.7" x2="770.2" y2="253.0" stroke="#404040" stroke-width="3"/>
<line x1="761.7" y1="253.0" x2="778.7" y2="253.0" stroke="#404040" stroke-width="3"/>
<text x="770.2" y="246.6" font-size="42" text-anchor="middle" font-weight="normal" font-style="normal" >b</text>
<rect x="878.7" y="1020.6" width="39.4" height="338.0" fill="#404040"/>
<line x1="898.4" y1="1021.1" x2="898.4" y2="958.7" stroke="#404040" stroke-width="3"/>
<line x1="889.9" y1="958.7" x2="906.9" y2="958.7" stroke="#404040" stroke-width="3"/>
<text x="898.4" y="950.6" font-size="42" text-anchor="middle" font-weight="normal" font-style="normal" >a</text>
<rect x="929.2" y="1109.4" width="39.4" height="249.2" fill="#4ea72e"/>
<line x1="948.9" y1="1109.9" x2="948.9" y2="1078.3" stroke="#404040" stroke-width="3"/>
<line x1="940.4" y1="1078.3" x2="957.4" y2="1078.3" stroke="#404040" stroke-width="3"/>
<text x="948.9" y="1072.6" font-size="42" text-anchor="middle" font-weight="normal" font-style="normal" >a</text>
<rect x="979.9" y="492.3" width="39.4" height="866.3" fill="#e97132"/>
<line x1="999.6" y1="492.8" x2="999.6" y2="410.5" stroke="#404040" stroke-width="3"/>
<line x1="991.1" y1="410.5" x2="1008.1" y2="410.5" stroke="#404040" stroke-width="3"/>
<text x="999.6" y="404.7" font-size="42" text-anchor="middle" font-weight="normal" font-style="normal" >b</text>
<rect x="1108.1" y="841.5" width="39.4" height="517.1" fill="#404040"/>
<line x1="1127.8" y1="842.0" x2="1127.8" y2="768.6" stroke="#404040" stroke-width="3"/>
<line x1="1119.3" y1="768.6" x2="1136.3" y2="768.6" stroke="#404040" stroke-width="3"/>
<text x="1127.8" y="762.7" font-size="42" text-anchor="middle" font-weight="normal" font-style="normal" >b</text>
<rect x="1158.6" y="1096.5" width="39.4" height="262.1" fill="#4ea72e"/>
<line x1="1178.3" y1="1097.0" x2="1178.3" y2="1036.5" stroke="#404040" stroke-width="3"/>
<line x1="1169.8" y1="1036.5" x2="1186.8" y2="1036.5" stroke="#404040" stroke-width="3"/>
<text x="1178.3" y="1031.0" font-size="42" text-anchor="middle" font-weight="normal" font-style="normal" >a</text>
<rect x="1209.3" y="483.2" width="39.4" height="875.4" fill="#e97132"/>
<line x1="1229.0" y1="483.7" x2="1229.0" y2="430.4" stroke="#404040" stroke-width="3"/>
<line x1="1220.5" y1="430.4" x2="1237.5" y2="430.4" stroke="#404040" stroke-width="3"/>
<text x="1229.0" y="424.5" font-size="42" text-anchor="middle" font-weight="normal" font-style="normal" >c</text>
<rect x="1337.5" y="1035.0" width="39.4" height="323.6" fill="#404040"/>
<line x1="1357.2" y1="1035.5" x2="1357.2" y2="1009.4" stroke="#404040" stroke-width="3"/>
<line x1="1348.7" y1="1009.4" x2="1365.7" y2="1009.4" stroke="#404040" stroke-width="3"/>
<rect x="1388.0" y="1125.2" width="39.4" height="233.4" fill="#4ea72e"/>
<line x1="1407.7" y1="1125.7" x2="1407.7" y2="1094.8" stroke="#404040" stroke-width="3"/>
<line x1="1399.2" y1="1094.8" x2="1416.2" y2="1094.8" stroke="#404040" stroke-width="3"/>
<rect x="1438.7" y="1036.8" width="39.4" height="321.8" fill="#e97132"/>
<line x1="1458.4" y1="1037.3" x2="1458.4" y2="1016.5" stroke="#404040" stroke-width="3"/>
<line x1="1449.9" y1="1016.5" x2="1466.9" y2="1016.5" stroke="#404040" stroke-width="3"/>
<line x1="419.7" y1="128.3" x2="557.5" y2="128.3" stroke="#000" stroke-width="3.4"/>
<text x="485.8" y="124.1" font-size="35" text-anchor="middle" textLength="46" lengthAdjust="spacing" stroke="#000" stroke-width="0.9">***</text>
<line x1="653.2" y1="189.8" x2="790.7" y2="189.8" stroke="#000" stroke-width="3.4"/>
<text x="723.5" y="185.6" font-size="35" text-anchor="middle" textLength="46" lengthAdjust="spacing" stroke="#000" stroke-width="0.9">***</text>
<line x1="882.8" y1="343.5" x2="1020.9" y2="343.5" stroke="#000" stroke-width="3.4"/>
<text x="952.6" y="339.3" font-size="35" text-anchor="middle" textLength="46" lengthAdjust="spacing" stroke="#000" stroke-width="0.9">***</text>
<line x1="1112.6" y1="368.8" x2="1250.3" y2="368.8" stroke="#000" stroke-width="3.4"/>
<text x="1182.5" y="364.6" font-size="35" text-anchor="middle" textLength="46" lengthAdjust="spacing" stroke="#000" stroke-width="0.9">***</text>
<line x1="1337.5" y1="973.3" x2="1474.6" y2="973.3" stroke="#000" stroke-width="3.4"/>
<text x="1408.8" y="968.3" font-size="35" text-anchor="middle" stroke="#000" stroke-width="0.9">*</text>
<text x="181.2" y="1491.0" font-size="42.5" text-anchor="start" font-weight="bold" font-style="normal" >b</text>
<rect x="322.0" y="1493.0" width="32.3" height="31.5" fill="#404040"/>
<rect x="322.0" y="1569.0" width="32.3" height="31.5" fill="#4ea72e"/>
<rect x="322.0" y="1646.5" width="32.3" height="31.5" fill="#e97132"/>
<line x1="378.4" y1="1458.3" x2="378.4" y2="1704.2" stroke="#000" stroke-width="3.5"/>
<line x1="376.6" y1="1702.4" x2="557.3" y2="1702.4" stroke="#000" stroke-width="3.7"/>
<rect x="385.8" y="1478.0" width="7.0" height="61.7" fill="#404040"/>
<text x="437.5" y="1519.6" font-size="42" font-style="italic">n.a.</text>
<rect x="387.4" y="1632.5" width="169.9" height="62.3" fill="#e97132"/>
<rect x="555.3" y="1654.6" width="5.2" height="17.6" fill="#262626"/>
<text x="386.2" y="1747.5" font-size="42.5" text-anchor="middle" font-weight="normal" font-style="normal" >0</text>
<text x="558.2" y="1747.5" font-size="42.5" text-anchor="middle" font-weight="normal" font-style="normal" >10</text>
<rect x="387.4" y="1556.2" width="26.6" height="61.3" fill="#4ea72e"/>
<line x1="386.5" y1="1587.4" x2="444.0" y2="1587.4" stroke="#262626" stroke-width="3.6"/>
<line x1="387.5" y1="1578.5" x2="387.5" y2="1595.6" stroke="#262626" stroke-width="3.4"/>
<line x1="443.5" y1="1578.5" x2="443.5" y2="1595.6" stroke="#262626" stroke-width="3.4"/>
<line x1="605.8" y1="1458.3" x2="605.8" y2="1704.2" stroke="#000" stroke-width="3.5"/>
<line x1="604.0" y1="1702.4" x2="786.9" y2="1702.4" stroke="#000" stroke-width="3.7"/>
<rect x="614.9" y="1478.0" width="7.0" height="61.7" fill="#404040"/>
<text x="665.5" y="1519.6" font-size="42" font-style="italic">n.a.</text>
<rect x="614.9" y="1632.5" width="170.1" height="62.3" fill="#e97132"/>
<rect x="783.0" y="1654.6" width="5.2" height="17.6" fill="#262626"/>
<text x="616.0" y="1747.5" font-size="42.5" text-anchor="middle" font-weight="normal" font-style="normal" >0</text>
<text x="786.2" y="1747.5" font-size="42.5" text-anchor="middle" font-weight="normal" font-style="normal" >10</text>
<line x1="616.6" y1="1576.5" x2="616.6" y2="1595.0" stroke="#262626" stroke-width="3.2"/>
<line x1="832.1" y1="1458.3" x2="832.1" y2="1704.2" stroke="#000" stroke-width="3.5"/>
<line x1="830.4" y1="1702.4" x2="1013.0" y2="1702.4" stroke="#000" stroke-width="3.7"/>
<rect x="839.2" y="1478.0" width="7.0" height="61.7" fill="#404040"/>
<text x="893.9" y="1519.6" font-size="42" font-style="italic">n.a.</text>
<rect x="843.0" y="1632.5" width="170.0" height="62.3" fill="#e97132"/>
<rect x="1011.0" y="1654.6" width="5.2" height="17.6" fill="#262626"/>
<text x="842.2" y="1747.5" font-size="42.5" text-anchor="middle" font-weight="normal" font-style="normal" >0</text>
<text x="1014.2" y="1747.5" font-size="42.5" text-anchor="middle" font-weight="normal" font-style="normal" >10</text>
<line x1="843.0" y1="1576.5" x2="843.0" y2="1595.0" stroke="#262626" stroke-width="3.2"/>
<line x1="1062.0" y1="1458.3" x2="1062.0" y2="1704.2" stroke="#000" stroke-width="3.5"/>
<line x1="1060.3" y1="1702.4" x2="1243.2" y2="1702.4" stroke="#000" stroke-width="3.7"/>
<rect x="1069.2" y="1478.0" width="7.0" height="61.7" fill="#404040"/>
<text x="1121.0" y="1519.6" font-size="42" font-style="italic">n.a.</text>
<rect x="1071.0" y="1632.5" width="169.8" height="62.3" fill="#e97132"/>
<rect x="1238.8" y="1654.6" width="5.2" height="17.6" fill="#262626"/>
<text x="1068.4" y="1747.5" font-size="42.5" text-anchor="middle" font-weight="normal" font-style="normal" >0</text>
<text x="1242.0" y="1747.5" font-size="42.5" text-anchor="middle" font-weight="normal" font-style="normal" >10</text>
<line x1="1070.8" y1="1576.5" x2="1070.8" y2="1595.0" stroke="#262626" stroke-width="3.2"/>
<line x1="1289.8" y1="1458.3" x2="1289.8" y2="1704.2" stroke="#000" stroke-width="3.5"/>
<line x1="1288.1" y1="1702.4" x2="1469.1" y2="1702.4" stroke="#000" stroke-width="3.7"/>
<rect x="1297.0" y="1478.0" width="7.0" height="61.7" fill="#404040"/>
<text x="1349.3" y="1519.6" font-size="42" font-style="italic">n.a.</text>
<rect x="1298.9" y="1632.5" width="169.7" height="62.3" fill="#e97132"/>
<rect x="1466.6" y="1654.6" width="5.2" height="17.6" fill="#262626"/>
<text x="1297.9" y="1747.5" font-size="42.5" text-anchor="middle" font-weight="normal" font-style="normal" >0</text>
<text x="1467.3" y="1747.5" font-size="42.5" text-anchor="middle" font-weight="normal" font-style="normal" >10</text>
<line x1="1298.6" y1="1576.5" x2="1298.6" y2="1595.0" stroke="#262626" stroke-width="3.2"/>
<text x="951.3" y="1798.3" font-size="41.6" text-anchor="middle" font-weight="normal" font-style="normal" >Number of non-affected stink bugs (mean ± CI 95%)</text>
<text x="1592.5" y="77.5" font-size="41" text-anchor="start" font-weight="bold" font-style="normal" >c</text>
<rect x="1568.5" y="410.9" width="23.3" height="22.9" fill="#404040"/>
<text x="1599.5" y="433.8" font-size="41.3" text-anchor="start" font-weight="normal" font-style="normal" >treated &amp; non-infested</text>
<rect x="1568.5" y="835.7" width="23.3" height="22.9" fill="#4ea72e"/>
<text x="1599.5" y="858.6" font-size="41.3" text-anchor="start" font-weight="normal" font-style="normal" >treated &amp; infested</text>
<rect x="1568.5" y="1259.9" width="23.3" height="22.9" fill="#e97132"/>
<text x="1599.5" y="1282.8" font-size="41.3" text-anchor="start" font-weight="normal" font-style="normal" >non-treated &amp; infested</text>
</svg>
</body></html>
